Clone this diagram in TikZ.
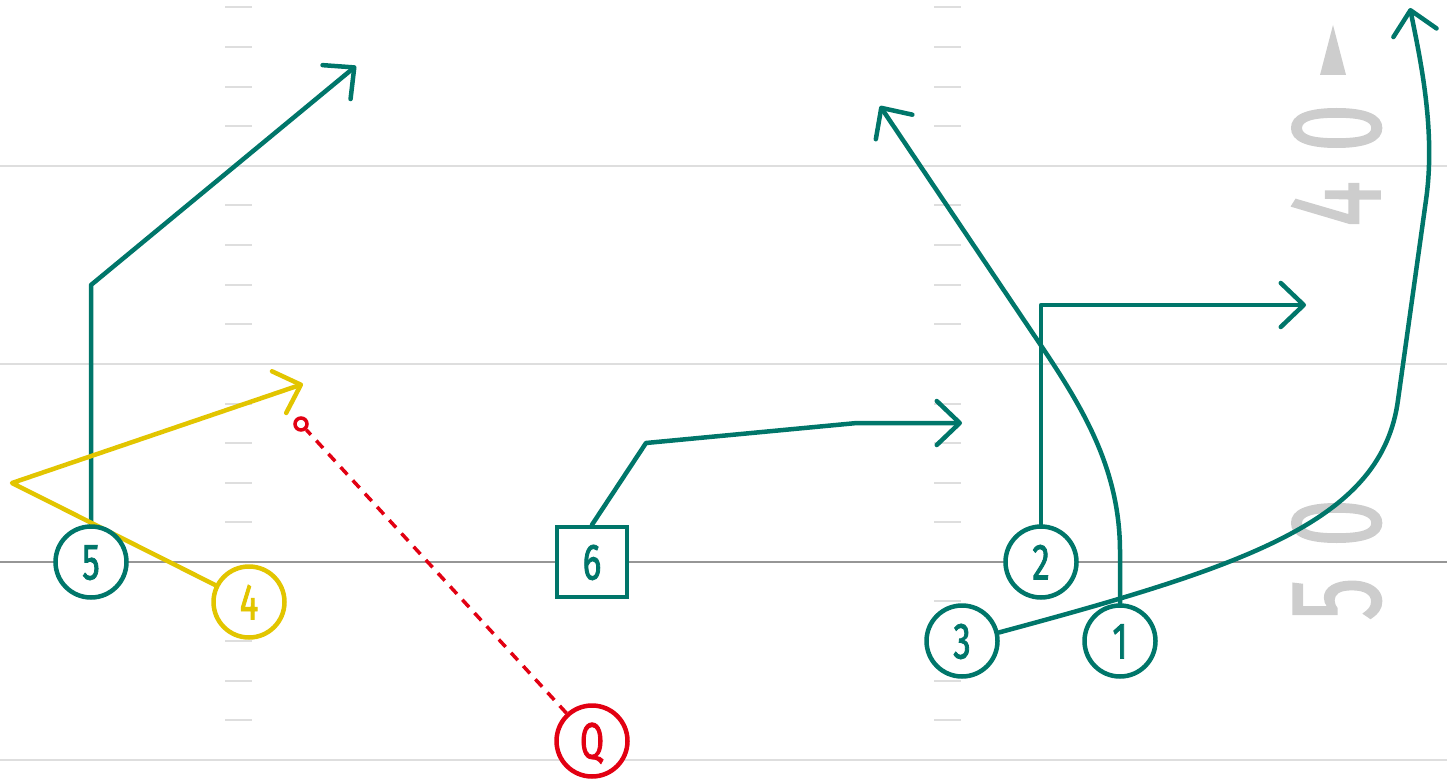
\documentclass[tikz,border=0pt]{standalone}
\usepackage{fontspec}
\usetikzlibrary{arrows.meta}
\newfontfamily\dinfont[FakeStretch=0.68,FakeBold=1.6]{Fira Sans}
\newfontfamily\fieldfont[FakeStretch=0.66,FakeBold=1.2]{Fira Sans}
\definecolor{playteal}{RGB}{0,118,106}
\definecolor{playyellow}{RGB}{226,197,0}
\definecolor{playred}{RGB}{226,0,18}
\definecolor{fieldline}{RGB}{222,222,222}
\definecolor{scrimline}{RGB}{150,150,150}
\definecolor{numgray}{RGB}{205,205,205}
\pgfdeclarelayer{gridlayer}
\pgfdeclarelayer{routelayer}
\pgfsetlayers{gridlayer,routelayer,main}
\begin{document}
\begin{tikzpicture}[x=1pt,y=-1pt,
  player/.style={circle, draw=#1, fill=white, line width=4.5pt, minimum size=71pt,
    inner sep=0pt, text=#1, font=\dinfont\fontsize{51}{51}\selectfont,
    text height=35pt, text depth=0pt},
  boxplayer/.style={rectangle, draw=#1, fill=white, line width=4.5pt, minimum size=70pt,
    inner sep=0pt, text=#1, font=\dinfont\fontsize{51}{51}\selectfont,
    text height=35pt, text depth=0pt},
  route/.style={draw=#1, line width=4.5pt, line join=round, line cap=round},
  tipped/.style={-{Straight Barb[length=23pt,width=44pt,round]}},
  yard/.style={draw=fieldline, line width=2pt},
  hashmark/.style={draw=fieldline, line width=2pt},
  fieldnum/.style={rotate=90, inner sep=0pt, text=numgray,
    font=\fieldfont\fontsize{130}{130}\selectfont, text height=90pt, text depth=0pt},
  passend/.style={circle, draw=playred, fill=white, line width=3.5pt, minimum size=12pt, inner sep=0pt}
]
\useasboundingbox (0,0) rectangle (1447,783);

% players
\node[player=playteal] (p5) at (91,562) {5};
\node[player=playyellow] (p4) at (249,602) {4};
\node[boxplayer=playteal] (p6) at (592,562) {6};
\node[player=playred] (pq) at (592,741) {Q};
\node[player=playteal] (p2) at (1041,562) {2};
\node[player=playteal] (p3) at (962,641) {3};
\node[player=playteal] (p1) at (1120,641) {1};
\node[passend] (qt) at (301,424) {};

% route points
\coordinate (c5a) at (91,285);
\coordinate (c5b) at (356,66);
\coordinate (c4a) at (12,483);
\coordinate (c4b) at (303,384);
\coordinate (c6a) at (646,443);
\coordinate (c6b) at (857,423);
\coordinate (c6c) at (962,423);
\coordinate (c2a) at (1041,305);
\coordinate (c2b) at (1306,305);
\coordinate (c1a) at (1120,552);
\coordinate (c1b) at (1042,347);
\coordinate (c1c) at (880,106);
\coordinate (c3a) at (1398,400);
\coordinate (c3b) at (1426,200);
\coordinate (c3c) at (1410,8);

\begin{pgfonlayer}{gridlayer}
  \foreach \yy in {166,364,760} \draw[yard] (0,\yy) -- (1447,\yy);
  \draw[draw=scrimline, line width=2pt] (0,562) -- (1447,562);
  \foreach \yy in {7,47,87,126,205,245,285,324,404,443,483,522,601,641,681,720} {
    \draw[hashmark] (225,\yy) -- (252,\yy);
    \draw[hashmark] (934,\yy) -- (961,\yy);
  }
  \node[fieldnum] (n40a) at (1335,204) {4};
  \node[fieldnum] (n40b) at (1335,128) {0};
  \node[fieldnum] (n50a) at (1335,599) {5};
  \node[fieldnum] (n50b) at (1335,523) {0};
  \fill[numgray] (1333,25) -- (1346,75) -- (1320,75) -- cycle;
\end{pgfonlayer}

\begin{pgfonlayer}{routelayer}
  \draw[route=playteal, tipped] (p5.north) -- (c5a) -- (c5b);
  \draw[route=playyellow, tipped] (p4) -- (c4a) -- (c4b);
  \draw[draw=playred, line width=3.5pt, dash pattern=on 10pt off 8pt] (pq) -- (qt);
  \draw[route=playteal, tipped] (p6.north) -- (c6a) -- (c6b) -- (c6c);
  \draw[route=playteal, tipped] (p2.north) -- (c2a) -- (c2b);
  \draw[route=playteal, tipped] (p1.north) -- (c1a)
     .. controls (1120,470) and (1084,410) .. (c1b) -- (c1c);
  \draw[route=playteal, tipped] (p3.13)
     .. controls (1250,565) and (1382,520) .. (c3a) -- (c3b)
     .. controls (1436,130) and (1420,58) .. (c3c);
\end{pgfonlayer}
\end{tikzpicture}
\end{document}
